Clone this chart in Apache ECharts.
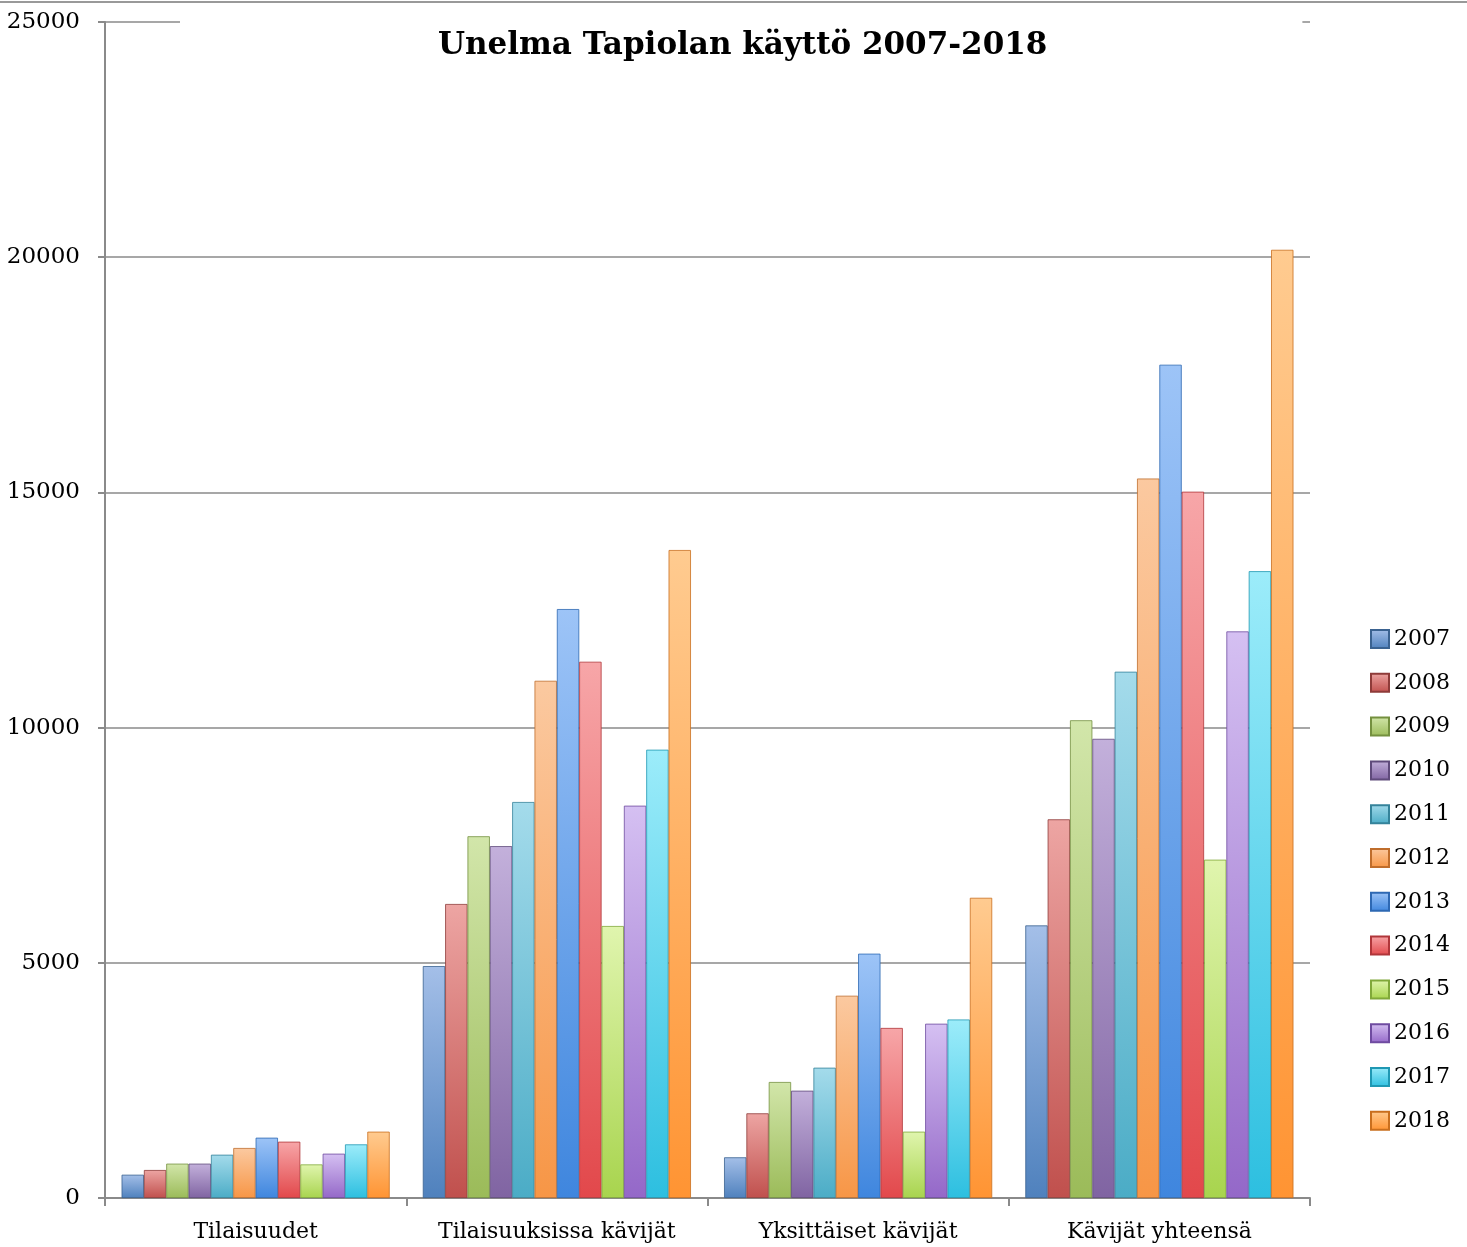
<!DOCTYPE html>
<html>
<head>
<meta charset="utf-8">
<script src="https://cdn.jsdelivr.net/npm/echarts@6/dist/echarts.min.js"></script>
<style>
html,body{margin:0;padding:0;background:#fff;}
#main{width:1467px;height:1247px;}
</style>
</head>
<body>
<div id="main"></div>
<script>
const titleText = 'Unelma Tapiolan käyttö 2007-2018';
const categories = ['Tilaisuudet', 'Tilaisuuksissa kävijät', 'Yksittäiset kävijät', 'Kävijät yhteensä'];
const years = ['2007','2008','2009','2010','2011','2012','2013','2014','2015','2016','2017','2018'];
// values per year: [Tilaisuudet, Tilaisuuksissa kävijät, Yksittäiset kävijät, Kävijät yhteensä]
const v2007 = [495, 4930, 865, 5795];
const v2008 = [595, 6250, 1800, 8050];
const v2009 = [730, 7690, 2466, 10156];
const v2010 = [730, 7480, 2281, 9761];
const v2011 = [920, 8418, 2770, 11188];
const v2012 = [1063, 10995, 4300, 15295];
const v2013 = [1282, 12520, 5194, 17714];
const v2014 = [1197, 11400, 3615, 15015];
const v2015 = [714, 5782, 1410, 7192];
const v2016 = [942, 8340, 3705, 12045];
const v2017 = [1140, 9530, 3795, 13325];
const v2018 = [1410, 13775, 6382, 20157];
const seriesValues = [v2007, v2008, v2009, v2010, v2011, v2012, v2013, v2014, v2015, v2016, v2017, v2018];
const yTicks = [0, 5000, 10000, 15000, 20000, 25000];

const baseColors = ['#4F81BD','#C0504D','#9BBB59','#8064A2','#4BACC6','#F79646','#3F86DE','#E2484B','#A8D44E','#9468C8','#2DBFE0','#FF9433'];
const topColors  = ['#A4BFE8','#EDA5A3','#D2E6AA','#C3B0DB','#A4DBEB','#FBC9A0','#9DC4F7','#F7A6A8','#E0F5AE','#D5C0F2','#9CECFA','#FFCB90'];
const edgeColors = ['#3A6290','#8E3B39','#74903F','#5F4A7B','#35839A','#BF6D2C','#2D68B3','#B0363A','#80A83A','#6F4BA0','#1F98B3','#C96F1E'];

const font = 'DejaVu Serif';
const chart = echarts.init(document.getElementById('main'));

const series = years.map((y, i) => ({
  name: y,
  type: 'bar',
  data: seriesValues[i],
  barGap: '0%',
  barCategoryGap: '11%',
  itemStyle: {
    color: new echarts.graphic.LinearGradient(0, 0, 0, 1, [
      {offset: 0, color: topColors[i]},
      {offset: 1, color: baseColors[i]}
    ]),
    borderColor: edgeColors[i],
    borderWidth: 0.8
  },
  emphasis: {disabled: true}
}));

chart.setOption({
  animation: false,
  backgroundColor: '#fff',
  title: {
    text: titleText,
    left: 180,
    top: 12,
    padding: [18, 255, 6, 258],
    backgroundColor: '#ffffff',
    textStyle: {fontFamily: font, fontWeight: 'bold', fontSize: 31, color: '#000'}
  },
  legend: {
    orient: 'vertical',
    left: 1370,
    top: 628,
    padding: 0,
    icon: 'rect',
    itemWidth: 18,
    itemHeight: 18,
    itemGap: 21.8,
    data: years,
    textStyle: {fontFamily: font, fontSize: 22, color: '#000', lineHeight: 22}
  },
  grid: {left: 105, right: 157, top: 22, bottom: 49, containLabel: false},
  xAxis: {
    type: 'category',
    data: categories,
    axisLine: {lineStyle: {color: '#8a8a8a', width: 2}},
    axisTick: {show: true, length: 8, lineStyle: {color: '#8a8a8a', width: 2}, alignWithLabel: false},
    axisLabel: {fontFamily: font, fontSize: 22, color: '#000', margin: 23, interval: 0}
  },
  yAxis: {
    type: 'value',
    min: 0,
    max: 25000,
    interval: 5000,
    axisLine: {show: true, lineStyle: {color: '#8a8a8a', width: 2}},
    axisTick: {show: true, length: 7, lineStyle: {color: '#8a8a8a', width: 2}},
    axisLabel: {fontFamily: font, fontSize: 23, color: '#000', margin: 25, formatter: function (v) { return String(v); }},
    splitLine: {show: true, lineStyle: {color: '#8a8a8a', width: 1.5}}
  },
  graphic: [
    {type: 'line', shape: {x1: 0, y1: 2, x2: 1467, y2: 2}, style: {stroke: '#999', lineWidth: 2}, z: 10}
  ],
  series: series
});
</script>
</body>
</html>
